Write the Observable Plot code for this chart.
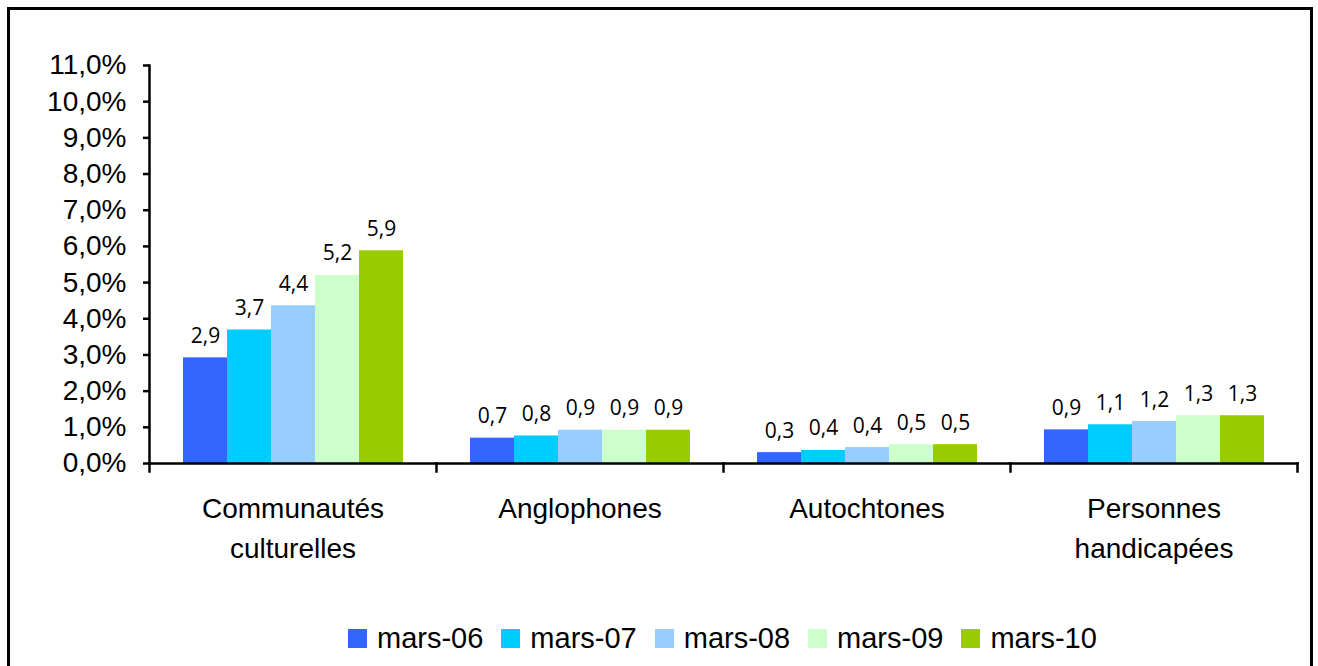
<!DOCTYPE html>
<html>
<head>
<meta charset="utf-8">
<script src="https://cdn.jsdelivr.net/npm/d3@7"></script>
<script src="https://cdn.jsdelivr.net/npm/@observablehq/plot@0.6"></script>
<style>
  html, body { margin: 0; padding: 0; background: #fff; }
  #wrap { position: relative; width: 1318px; height: 666px; overflow: hidden; }
  #border { position: absolute; left: 7px; top: 7px; width: 1300px; height: 700px; border: 3px solid #000; box-sizing: content-box; }
  #chart { position: absolute; left: 0; top: 0; }
  #legend { position: absolute; left: 348px; top: 624px; display: flex; font-family: "Liberation Sans", Arial, sans-serif; font-size: 29px; color: #000; }
  .item { display: flex; align-items: center; margin-right: 18px; line-height: 1; }
  .sw { width: 19px; height: 19px; margin-right: 10px; }
</style>
</head>
<body>
<div id="wrap">
  <div id="border"></div>
  <div id="chart"></div>
  <div id="legend"></div>
</div>
<script>
// ---- data ----
const categories = ["Communautés culturelles", "Anglophones", "Autochtones", "Personnes handicapées"];
const categoryLabels = ["Communautés\nculturelles", "Anglophones", "Autochtones", "Personnes\nhandicapées"];
const series = ["mars-06", "mars-07", "mars-08", "mars-09", "mars-10"];
const communautes = [2.92, 3.69, 4.36, 5.2, 5.88];
const anglophones = [0.7, 0.76, 0.92, 0.92, 0.92];
const autochtones = [0.3, 0.36, 0.44, 0.52, 0.52];
const personnes = [0.93, 1.07, 1.16, 1.32, 1.32];
const colors = ["#3366FF", "#00CCFF", "#99CCFF", "#CCFFCC", "#99CC00"];
const yTicks = [0, 1, 2, 3, 4, 5, 6, 7, 8, 9, 10, 11];

const valuesByCat = [communautes, anglophones, autochtones, personnes];
const rows = [];
categories.forEach((c, i) => series.forEach((s, j) => rows.push({cat: c, serie: s, value: valuesByCat[i][j]})));

const W = 1318, H = 600, mT = 65, mB = 137, mL = 148, mR = 21;
const frameH = H - mT - mB;
const fmt = v => v.toFixed(1).replace(".", ",");
const labelOf = new Map(categories.map((c, i) => [c, categoryLabels[i]]));
const axisFont = "'Liberation Sans', Arial, sans-serif";

const plot = Plot.plot({
  width: W, height: H,
  marginTop: mT, marginBottom: mB, marginLeft: mL, marginRight: mR,
  style: {fontFamily: axisFont, color: "#000", background: "transparent", overflow: "visible"},
  fx: {domain: categories, padding: 0, axis: null, label: null},
  x: {domain: series, paddingInner: 0, paddingOuter: 0.73, axis: null, label: null},
  y: {domain: [0, 11], axis: null, label: null},
  color: {domain: series, range: colors},
  marks: [
    Plot.barY(rows, {fx: "cat", x: "serie", y: "value", fill: "serie"}),
    Plot.text(rows, {fx: "cat", x: "serie", y: "value", text: d => fmt(d.value), dy: -15, lineAnchor: "bottom",
      fontFamily: "'Open Sans', 'Noto Sans', sans-serif", fontSize: 21, fill: "#000"}),
    Plot.frame({anchor: "bottom", stroke: "#000", strokeWidth: 2.5}),
    Plot.frame({anchor: "left", facetAnchor: "left", stroke: "#000", strokeWidth: 2.5}),
    Plot.frame({anchor: "left", stroke: "#000", strokeWidth: 2.5, insetTop: frameH, insetBottom: -8}),
    Plot.frame({anchor: "right", facetAnchor: "right", stroke: "#000", strokeWidth: 2.5, insetTop: frameH, insetBottom: -8}),
    Plot.axisY({ticks: yTicks, tickFormat: d => fmt(d) + "%", tickSize: 6, tickPadding: 17, label: null,
      strokeWidth: 2.5, fontSize: 28, fill: "#000"}),
    Plot.axisFx({anchor: "bottom", tickSize: 0, tickPadding: 26, tickFormat: d => labelOf.get(d), label: null,
      fontSize: 28, lineHeight: 1.43, fill: "#000"})
  ]
});
document.getElementById("chart").appendChild(plot);

const legend = document.getElementById("legend");
series.forEach((s, i) => {
  const it = document.createElement("div");
  it.className = "item";
  const sw = document.createElement("span");
  sw.className = "sw";
  sw.style.background = colors[i];
  const t = document.createElement("span");
  t.textContent = s;
  it.appendChild(sw); it.appendChild(t);
  legend.appendChild(it);
});
</script>
</body>
</html>
